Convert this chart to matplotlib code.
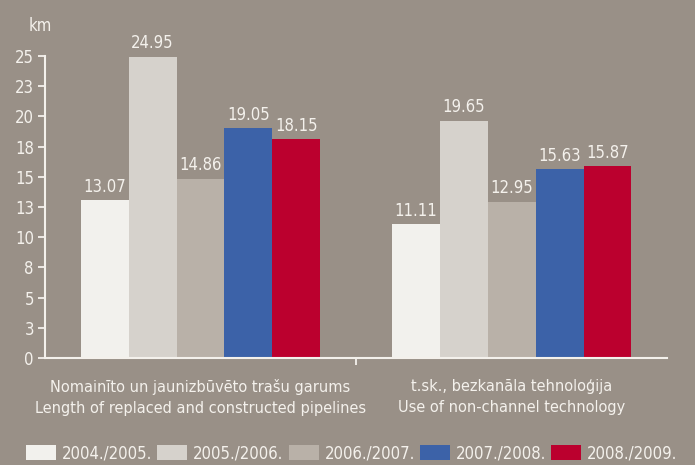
import numpy as np
import matplotlib
matplotlib.use("Agg")
import matplotlib.pyplot as plt
from matplotlib.patches import Patch
from matplotlib.transforms import blended_transform_factory

plt.rcParams['font.family'] = ['DejaVu Sans']
plt.rcParams['font.stretch'] = 'condensed'

categories = ["Nomainīto un jaunizbūvēto trašu garums\nLength of replaced and constructed pipelines",
              "t.sk., bezkanāla tehnoloģija\nUse of non-channel technology"]
seasons = ["2004./2005.", "2005./2006.", "2006./2007.", "2007./2008.", "2008./2009."]
values = [
    [13.07, 11.11],
    [24.95, 19.65],
    [14.86, 12.95],
    [19.05, 15.63],
    [18.15, 15.87],
]
value_labels = [
    ["13.07", "11.11"],
    ["24.95", "19.65"],
    ["14.86", "12.95"],
    ["19.05", "15.63"],
    ["18.15", "15.87"],
]
y_ticks = [0, 2.5, 5, 7.5, 10, 12.5, 15, 17.5, 20, 22.5, 25]
y_tick_labels = ["0", "3", "5", "8", "10", "13", "15", "18", "20", "23", "25"]

colors = ["#f2f1ed", "#d6d2cc", "#b9b1a8", "#3c62a8", "#bb002e"]
bg = "#999087"
txt = "#f4f1ec"

fig = plt.figure(figsize=(6.95, 4.65), dpi=100, facecolor=bg)
ax = fig.add_axes([0.0647, 0.230, 0.8953, 0.6496], facecolor=bg)

x = np.arange(len(categories))
w = 0.154
for i in range(len(seasons)):
    pos = x + (i - 2) * w
    ax.bar(pos, values[i], width=w, color=colors[i], linewidth=0)
    for j in range(len(categories)):
        ax.annotate(value_labels[i][j], (pos[j], values[i][j]), xytext=(0, 3),
                    textcoords="offset points", ha="center", va="bottom",
                    color=txt, fontsize=12)

ax.set_xlim(-0.5, 1.5)
ax.set_ylim(0, 25)
ax.set_yticks(y_ticks)
ax.set_yticklabels(y_tick_labels)
ax.set_xticks([0.5])
ax.set_xticklabels([""])
ax.tick_params(axis="both", colors=txt, labelcolor=txt, labelsize=12,
               length=5, width=1.3, direction="out", pad=3)
for s in ["top", "right"]:
    ax.spines[s].set_visible(False)
for s in ["left", "bottom"]:
    ax.spines[s].set_color(txt)
    ax.spines[s].set_linewidth(1.5)

tr = blended_transform_factory(ax.transData, fig.transFigure)
for j, c in enumerate(categories):
    ax.text(x[j], 0.186, c, transform=tr, ha="center", va="top",
            color=txt, fontsize=11.7, linespacing=1.5)

fig.text(40 / 695, 0.945, "km", ha="center", va="center", color=txt, fontsize=12)

handles = [Patch(facecolor=colors[i], edgecolor="none", label=seasons[i]) for i in range(len(seasons))]
leg = fig.legend(handles=handles, loc="lower center", bbox_to_anchor=(0.506, -0.008), ncol=5,
                 frameon=False, handlelength=1.8, handleheight=1.0, handletextpad=0.35,
                 columnspacing=0.3, fontsize=12, borderaxespad=0)
for t in leg.get_texts():
    t.set_color(txt)

fig.savefig("out.png", dpi=100, facecolor=bg)
